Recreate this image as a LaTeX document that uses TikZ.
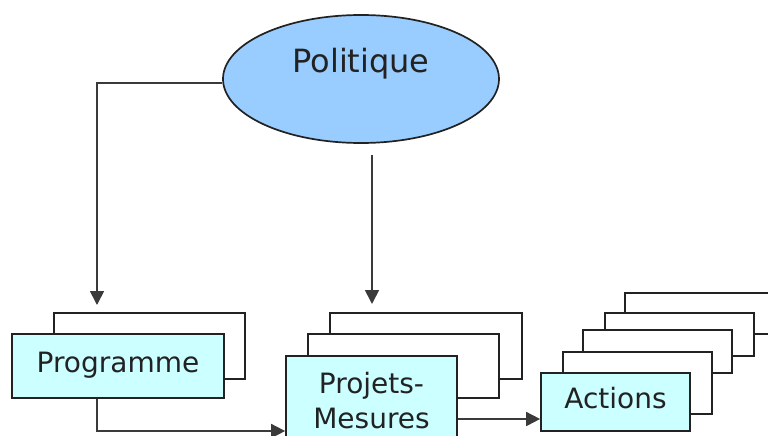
\documentclass[tikz,border=0pt]{standalone}
\usepackage{fontspec}
\setmainfont{DejaVu Sans}
\usetikzlibrary{shapes.geometric,arrows.meta}
\definecolor{boxfill}{HTML}{CCFFFF}
\definecolor{ellfill}{HTML}{99CCFF}
\definecolor{ink}{HTML}{222222}
\definecolor{wire}{HTML}{3A3A3A}
\begin{document}
\begin{tikzpicture}[x=1pt,y=-1pt,
  frame/.style={draw=ink, line width=1.7pt, fill=white, inner sep=0pt, rectangle},
  mainbox/.style={frame, fill=boxfill, text=ink, font=\fontsize{28}{35}\selectfont,
    text height=20pt, text depth=7pt, align=center},
  conn/.style={draw=wire, line width=1.7pt},
  arr/.style={conn, -{Triangle[length=14pt,width=14pt]}}]
\useasboundingbox (0,0) rectangle (768,436);
\clip (0,0) rectangle (768,436);

% policy ellipse
\node[ellipse, draw=ink, line width=1.7pt, fill=ellfill, minimum width=276pt,
  minimum height=128pt, inner sep=0pt] (pol) at (361,79) {};
\node[anchor=base, text=ink, font=\fontsize{32}{38}\selectfont] (polt) at (361,73) {Politique};

% programme stack
\node[frame, minimum width=191pt, minimum height=66pt] (progB) at (149.5,346) {};
\node[mainbox, minimum width=212pt, minimum height=64pt] (prog) at (118,366) {Programme};

% projets stack
\node[frame, minimum width=192pt, minimum height=66pt] (projB2) at (426,346) {};
\node[frame, minimum width=191pt, minimum height=64pt] (projB1) at (403.5,366) {};
\node[mainbox, minimum width=171pt, minimum height=90pt, text height=, text depth=] (proj) at (371.5,401) {Projets-\\Mesures};

% actions stack
\node[frame, minimum width=150pt, minimum height=41pt] (actB4) at (700,313.5) {};
\node[frame, minimum width=149pt, minimum height=43pt] (actB3) at (679.5,334.5) {};
\node[frame, minimum width=149pt, minimum height=43pt] (actB2) at (657.5,351.5) {};
\node[frame, minimum width=149pt, minimum height=62pt] (actB1) at (637.5,383) {};
\node[mainbox, minimum width=149pt, minimum height=58pt] (act) at (615.5,402) {Actions};

% connectors
\coordinate (progIn) at (97,305);
\coordinate (projTop) at (372,155);
\coordinate (projIn) at (372,304);
\draw[arr] (pol.west |- 0,83) -| (progIn);
\draw[arr] (projTop) -- (projIn);
\draw[arr] (prog.south -| progIn) |- (proj.west |- 0,431);
\draw[arr] (proj.east |- 0,419) -- (act.west |- 0,419);
\end{tikzpicture}
\end{document}
